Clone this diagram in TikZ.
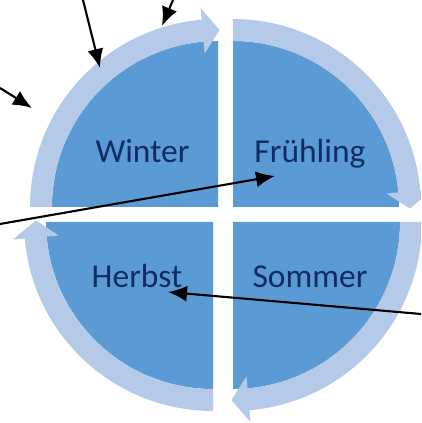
\documentclass[tikz,border=0pt]{standalone}
\usepackage{fontspec}
\setmainfont{Carlito}
\usetikzlibrary{arrows.meta,positioning}

\definecolor{qdark}{HTML}{5B9BD5}
\definecolor{qlight}{HTML}{B5CAE8}
\definecolor{qtext}{HTML}{0F2D64}

\begin{document}
\begin{tikzpicture}[x=1pt,y=1pt]

\tikzset{quarter/.style = {fill=qdark}}
\tikzset{band/.style = {fill=qlight}}
\tikzset{season/.style = {text=qtext, anchor=base, inner sep=0pt, font=\fontsize{33.5}{40}\selectfont}}
\tikzset{pointer/.style = {-{Latex[length=19pt,width=16pt]}, line width=2.1pt}}

\path[use as bounding box] (0,0) rectangle (421,423);
\clip (0,0) rectangle (421,423);

% corners of the quarters
\coordinate (win) at (218,216);
\coordinate (fru) at (233,216);
\coordinate (som) at (233,201);
\coordinate (her) at (213,201);

% quarters
\fill[quarter] (win) -- ++(180:166) arc[start angle=180,end angle=90,radius=166] -- cycle;
\fill[quarter] (fru) -- ++(90:166) arc[start angle=90,end angle=0,radius=166] -- cycle;
\fill[quarter] (som) -- ++(0:167) arc[start angle=0,end angle=-90,radius=167] -- cycle;
\fill[quarter] (her) -- ++(-90:167) arc[start angle=-90,end angle=-180,radius=167] -- cycle;

% cycle arrows
\begin{scope}[shift={(win)}]
\fill[band] (180:166) -- (180:188) arc[start angle=180,end angle=95,radius=188]
  -- (95:200) -- (89.5:177) -- (95:154) -- (95:166)
  arc[start angle=95,end angle=180,radius=166] -- cycle;
\end{scope}
\begin{scope}[shift={(fru)}]
\fill[band] (90:166) -- (90:188) arc[start angle=90,end angle=5,radius=188]
  -- (5:200) -- (-0.5:177) -- (5:154) -- (5:166)
  arc[start angle=5,end angle=90,radius=166] -- cycle;
\end{scope}
\begin{scope}[shift={(som)}]
\fill[band] (0:167) -- (0:189) arc[start angle=0,end angle=-85,radius=189]
  -- (-85:201) -- (-90.5:178) -- (-85:155) -- (-85:167)
  arc[start angle=-85,end angle=0,radius=167] -- cycle;
\end{scope}
\begin{scope}[shift={(her)}]
\fill[band] (-90:167) -- (-90:189) arc[start angle=-90,end angle=-175,radius=189]
  -- (-175:201) -- (-180.5:177) -- (-175:155) -- (-175:167)
  arc[start angle=-175,end angle=-90,radius=167] -- cycle;
\end{scope}

% labels
\node[season] (winter) at (142.5,260) {Winter};
\node[season] (fruehling) at (310,260) {Frühling};
\node[season] (herbst) at (137,135) {Herbst};
\node[season] (sommer) at (310,135) {Sommer};

% pointers
\coordinate (p1) at (83,423);   \coordinate (t1) at (100,355);
\coordinate (p2) at (173,423);  \coordinate (t2) at (162,397);
\coordinate (p3) at (0,335);    \coordinate (t3) at (32,315);
\coordinate (p4) at (0,199);    \coordinate (t4) at (275,247);
\coordinate (p5) at (421,109);  \coordinate (t5) at (168,131);

\draw[pointer] (p1) -- (t1);
\draw[pointer] (p2) -- (t2);
\draw[pointer] (p3) -- (t3);
\draw[pointer] (p4) -- (t4);
\draw[pointer] (p5) -- (t5);

\end{tikzpicture}
\end{document}
